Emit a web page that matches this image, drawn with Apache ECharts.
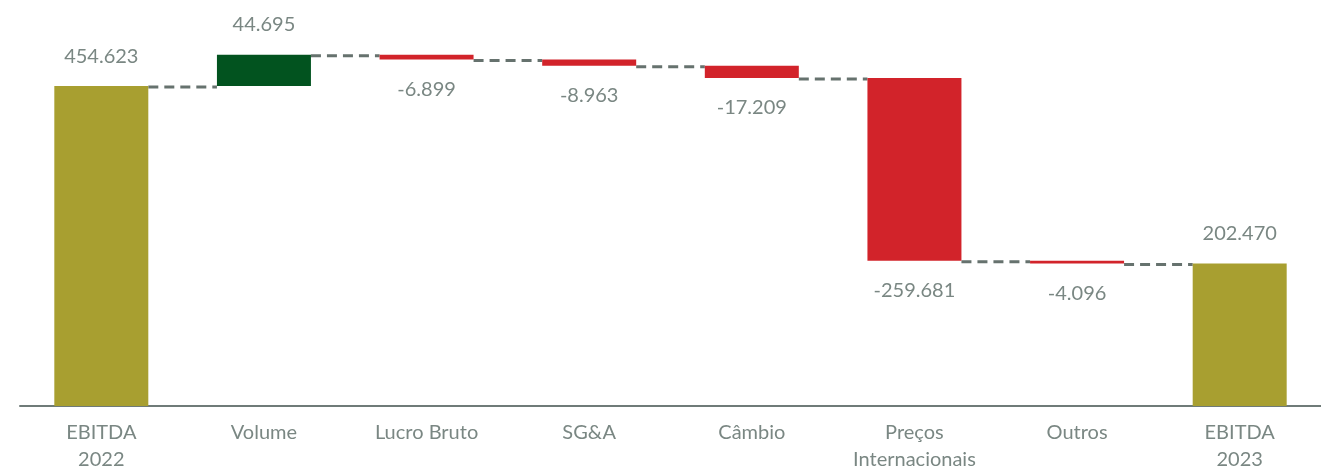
<!DOCTYPE html>
<html>
<head>
<meta charset="utf-8">
<script src="https://cdn.jsdelivr.net/npm/echarts@6/dist/echarts.min.js"></script>
<style>
  html, body { margin: 0; padding: 0; background: #fff; }
  #ebitda_bridge { width: 1321px; height: 470px; }
</style>
</head>
<body>
<div id="ebitda_bridge"></div>
<script>
var categories = ['EBITDA\n2022', 'Volume', 'Lucro Bruto', 'SG&A', 'Câmbio', 'Preços\nInternacionais', 'Outros', 'EBITDA\n2023'];
var values = [454.623, 44.695, -6.899, -8.963, -17.209, -259.681, -4.096, 202.470];
var isTotal = [true, false, false, false, false, false, false, true];

var gold = '#a89f30', green = '#02531f', red = '#d2232a', grey = '#7a8783';
var barW = 94;

// build the waterfall pieces
var base = [], up = [], down = [], total = [], levels = [];
var run = 0;
values.forEach(function (v, i) {
    if (isTotal[i]) {
        base.push(0); total.push(v); up.push('-'); down.push('-');
        run = v;
    } else if (v >= 0) {
        base.push(run); up.push(v); down.push('-'); total.push('-');
        run += v;
    } else {
        base.push(run + v); down.push(-v); up.push('-'); total.push('-');
        run += v;
    }
    levels.push(run);
});

// dashed connectors between consecutive bars (edge to edge)
var connectors = [];
for (var i = 0; i < categories.length - 1; i++) {
    connectors.push([i, levels[i]]);
}

function fmt(p) {
    return values[p.dataIndex].toFixed(3);
}

var labelStyle = {
    show: true,
    fontFamily: 'Lato',
    fontSize: 20,
    color: grey,
    distance: 20,
    formatter: fmt
};

var myChart = echarts.init(document.getElementById('ebitda_bridge'));
option = {
    animation: false,
    grid: { left: 20, right: 0, top: 0, bottom: 64, outerBoundsMode: 'none', containLabel: false },
    xAxis: {
        type: 'category',
        data: categories,
        axisTick: { show: false },
        axisLine: { lineStyle: { color: '#6f7b78', width: 2 } },
        axisLabel: {
            margin: 13,
            fontFamily: 'Lato',
            fontSize: 20,
            lineHeight: 27,
            color: grey,
            interval: 0
        }
    },
    yAxis: {
        type: 'value',
        min: 0,
        max: 577,
        show: false,
        splitLine: { show: false }
    },
    series: [
        {
            name: 'connector', type: 'custom', z: 1, silent: true,
            data: connectors,
            renderItem: function (params, api) {
                var a = api.coord([api.value(0), api.value(1)]);
                var b = api.coord([api.value(0) + 1, api.value(1)]);
                return {
                    type: 'line',
                    shape: { x1: a[0] + barW / 2, y1: a[1] + 1, x2: b[0] - barW / 2, y2: a[1] + 1 },
                    style: { stroke: '#66726e', lineWidth: 3, lineDash: [10, 6] }
                };
            }
        },
        {
            name: 'base', type: 'bar', stack: 'w', data: base, z: 1,
            barWidth: barW,
            itemStyle: { color: 'transparent' }
        },
        {
            name: 'total', type: 'bar', stack: 'w', data: total, z: 10,
            itemStyle: { color: gold },
            label: Object.assign({ position: 'top' }, labelStyle)
        },
        {
            name: 'up', type: 'bar', stack: 'w', data: up, z: 10,
            itemStyle: { color: green },
            label: Object.assign({ position: 'top' }, labelStyle)
        },
        {
            name: 'down', type: 'bar', stack: 'w', data: down, z: 10,
            itemStyle: { color: red },
            label: Object.assign({ position: 'bottom' }, labelStyle)
        }
    ]
};
myChart.setOption(option);
</script>
</body>
</html>
